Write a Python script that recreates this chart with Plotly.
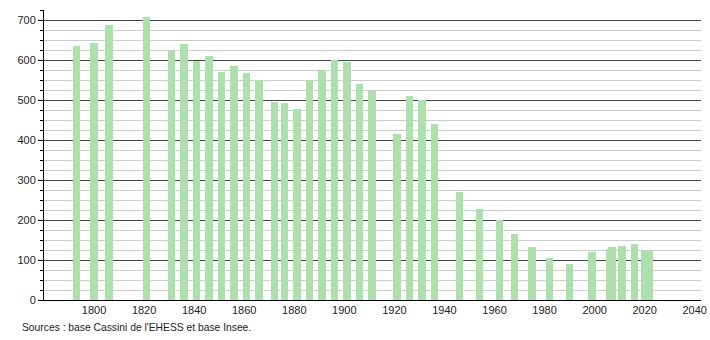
import plotly.graph_objects as go

years = [1793, 1800, 1806, 1821, 1831, 1836, 1841, 1846, 1851, 1856, 1861, 1866,
         1872, 1876, 1881, 1886, 1891, 1896, 1901, 1906, 1911, 1921, 1926, 1931,
         1936, 1946, 1954, 1962, 1968, 1975, 1982, 1990, 1999, 2006, 2007, 2011,
         2016, 2020, 2022]
population = [635, 643, 688, 708, 623, 641, 598, 611, 571, 585, 568, 550,
              495, 492, 477, 550, 574, 601, 595, 540, 523, 415, 510, 500,
              441, 270, 227, 200, 166, 132, 104, 90, 120, 128, 132, 135,
              140, 124, 124]
x_ticks = [1800, 1820, 1840, 1860, 1880, 1900, 1920, 1940, 1960, 1980, 2000, 2020, 2040]
y_ticks = [0, 100, 200, 300, 400, 500, 600, 700]
source_text = "Sources : base Cassini de l'EHESS et base Insee."

fig = go.Figure()
fig.add_trace(go.Bar(
    x=years, y=population, width=3,
    marker=dict(color="#aee0ae", line=dict(width=0)),
    hoverinfo="x+y",
))

font = dict(family="Liberation Sans, Arial, sans-serif", size=11, color="#222")

fig.update_layout(
    width=710, height=340,
    margin=dict(l=44, r=9, t=10, b=40, autoexpand=False),
    paper_bgcolor="white", plot_bgcolor="white",
    showlegend=False, font=font, bargap=0,
)
fig.update_xaxes(
    range=[1780, 2042.5], tickvals=x_ticks, ticktext=[str(v) for v in x_ticks],
    showline=True, linecolor="#000", linewidth=1, ticks="", showgrid=False,
    zeroline=False, tickfont=font, fixedrange=True, automargin=False,
)
fig.update_yaxes(
    range=[0, 725], tickvals=y_ticks, ticktext=[str(v) for v in y_ticks],
    showline=True, linecolor="#000", linewidth=1,
    ticks="outside", ticklen=5, tickcolor="#000", tickwidth=1,
    showgrid=True, gridcolor="#444", gridwidth=1, zeroline=False,
    minor=dict(dtick=25, tick0=0, ticks="outside", ticklen=3, tickcolor="#000",
               showgrid=True, gridcolor="#cccccc", gridwidth=1),
    tickfont=font, fixedrange=True, automargin=False,
)
fig.add_annotation(
    text=source_text, xref="paper", yref="paper",
    x=-24 / 657, y=-27 / 290, xanchor="left", yanchor="middle",
    showarrow=False, font=dict(family="Liberation Sans, Arial, sans-serif", size=10.3, color="#222"),
)
fig.write_html("out.html")
